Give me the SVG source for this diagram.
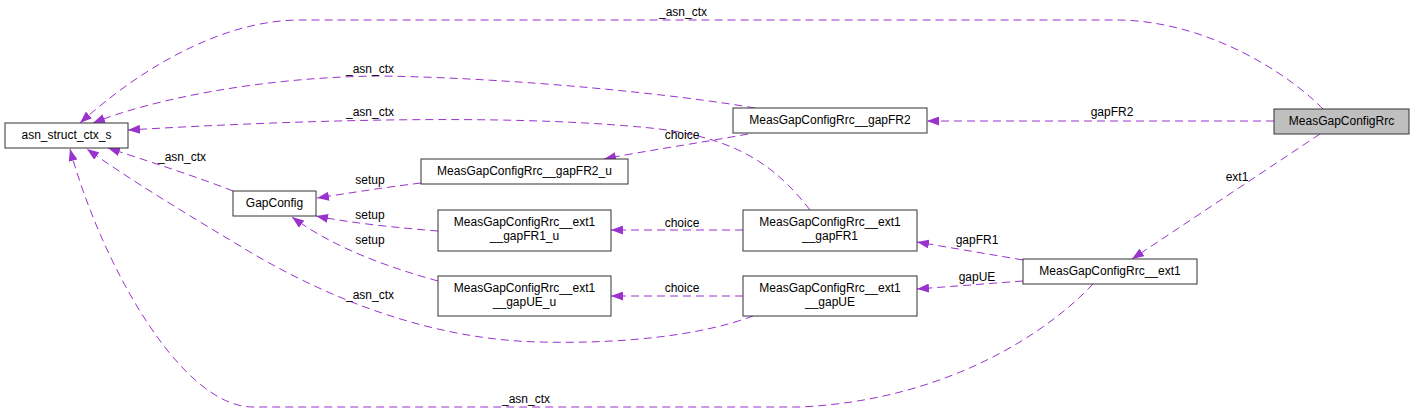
<svg xmlns="http://www.w3.org/2000/svg" width="1415" height="412" viewBox="0 0 1415 412">
<style>
.node rect{fill:#ffffff;stroke:#333333;stroke-width:1}
.node.hl rect{fill:#bfbfbf}
.node text{font-family:"Liberation Sans",Arial,sans-serif;font-size:12px;fill:#000;text-anchor:middle}
.edges path{fill:none;stroke:#9a32cd;stroke-width:1;stroke-dasharray:8,5;marker-end:url(#ah)}
.edges text{font-family:"Liberation Sans",Arial,sans-serif;font-size:12px;fill:#000;text-anchor:middle}
</style>
<defs>
<marker id="ah" markerWidth="12" markerHeight="9" refX="12" refY="4.5" orient="auto" markerUnits="userSpaceOnUse">
<path d="M0,0 L12,4.5 L0,9 z" fill="#9a32cd"/>
</marker>
</defs>
<rect width="1415" height="412" fill="#ffffff"/>
<g id="edges" class="edges">
<path d="M1323,109 C1290,75 1210,22 1120,20 L300,20 C230,20 150,60 80,123"/>
<text x="683" y="16">_asn_ctx</text>
<path d="M755,108 C680,95 520,78 380,76 C260,77 150,100 93,123"/>
<text x="370" y="73">_asn_ctx</text>
<path d="M810,210 C775,165 735,135 640,127 C500,114 300,120 128,130"/>
<text x="370" y="116">_asn_ctx</text>
<path d="M748,134 C700,143 650,150 604,159"/>
<text x="682" y="139">choice</text>
<path d="M1274,121 L927,121"/>
<text x="1112" y="116">gapFR2</text>
<path d="M1320,134 L1132,259"/>
<text x="1237" y="181">ext1</text>
<path d="M1023,260 L917,242"/>
<text x="977" y="244">gapFR1</text>
<path d="M1023,281 L917,289"/>
<text x="977" y="281">gapUE</text>
<path d="M743,230 L611,230"/>
<text x="682" y="227">choice</text>
<path d="M743,296 L611,296"/>
<text x="682" y="292">choice</text>
<path d="M233,191 C200,178 160,165 108,148"/>
<text x="182" y="161">_asn_ctx</text>
<path d="M753,316 C700,336 620,344 540,342 C440,340 340,305 250,252 C190,216 130,180 87,149"/>
<text x="370" y="299">_asn_ctx</text>
<path d="M1093,284 C1050,330 950,400 800,407 L253,407 C180,407 100,260 70,149"/>
<text x="526" y="403">_asn_ctx</text>
<path d="M421,183 C380,188 350,193 317,198"/>
<text x="370" y="184">setup</text>
<path d="M438,231 C400,228 350,223 316,216"/>
<text x="370" y="219">setup</text>
<path d="M438,281 C380,265 330,245 292,217"/>
<text x="370" y="244">setup</text>
</g>
<g id="node_asn_struct_ctx_s" class="node">
<rect x="5" y="123" width="123" height="25"/>
<text x="66.5" y="139">asn_struct_ctx_s</text>
</g>
<g id="node_GapConfig" class="node">
<rect x="233" y="191" width="83" height="25"/>
<text x="274.5" y="207">GapConfig</text>
</g>
<g id="node_gapFR2_u" class="node">
<rect x="421" y="159" width="207" height="25"/>
<text x="524.5" y="175">MeasGapConfigRrc__gapFR2_u</text>
</g>
<g id="node_gapFR2" class="node">
<rect x="733" y="108" width="194" height="25"/>
<text x="830" y="124">MeasGapConfigRrc__gapFR2</text>
</g>
<g id="node_ext1_gapFR1_u" class="node">
<rect x="438" y="210" width="173" height="41"/>
<text x="524.5" y="226">MeasGapConfigRrc__ext1</text>
<text x="524.5" y="240">__gapFR1_u</text>
</g>
<g id="node_ext1_gapUE_u" class="node">
<rect x="438" y="276" width="173" height="40"/>
<text x="524.5" y="292">MeasGapConfigRrc__ext1</text>
<text x="524.5" y="306">__gapUE_u</text>
</g>
<g id="node_ext1_gapFR1" class="node">
<rect x="743" y="210" width="174" height="41"/>
<text x="830" y="226">MeasGapConfigRrc__ext1</text>
<text x="830" y="240">__gapFR1</text>
</g>
<g id="node_ext1_gapUE" class="node">
<rect x="743" y="276" width="174" height="40"/>
<text x="830" y="292">MeasGapConfigRrc__ext1</text>
<text x="830" y="306">__gapUE</text>
</g>
<g id="node_ext1" class="node">
<rect x="1023" y="259" width="174" height="25"/>
<text x="1110" y="275">MeasGapConfigRrc__ext1</text>
</g>
<g id="node_MeasGapConfigRrc" class="node hl">
<rect x="1274" y="109" width="135" height="25"/>
<text x="1341.5" y="125">MeasGapConfigRrc</text>
</g>
</svg>
